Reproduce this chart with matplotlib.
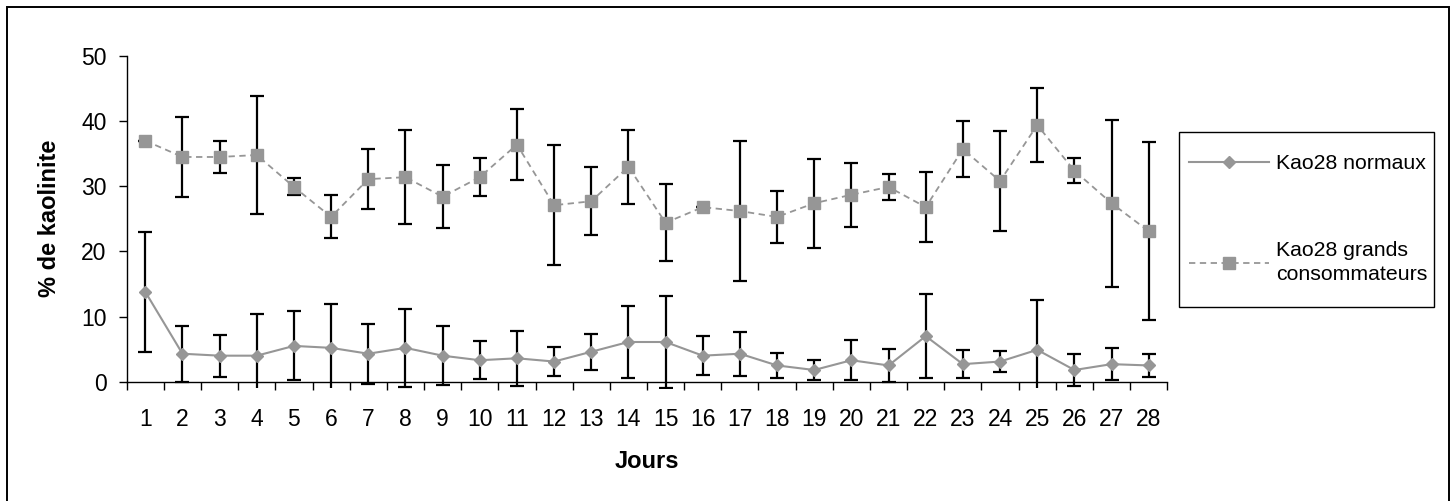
import matplotlib
matplotlib.use("Agg")
import matplotlib.pyplot as plt
from matplotlib.patches import Rectangle
from matplotlib.lines import Line2D
from matplotlib.ticker import FixedLocator, NullFormatter, FixedFormatter

plt.rcParams['font.family'] = ['Liberation Sans', 'DejaVu Sans']

# Days of observation
jours = list(range(1, 29))

# Kaolinite percentage, normal consumers (mean and standard deviation)
kao_normaux = [13.8, 4.3, 4.0, 4.0, 5.5, 5.2, 4.3, 5.2, 4.0, 3.3, 3.6, 3.1, 4.6, 6.1,
               6.1, 4.0, 4.3, 2.5, 1.8, 3.3, 2.5, 7.0, 2.7, 3.1, 4.9, 1.8, 2.7, 2.5]
err_normaux = [9.2, 4.3, 3.2, 6.4, 5.3, 6.8, 4.6, 6.0, 4.5, 2.9, 4.2, 2.2, 2.8, 5.5,
               7.0, 3.0, 3.4, 1.9, 1.5, 3.1, 2.5, 6.5, 2.2, 1.6, 7.6, 2.5, 2.5, 1.8]

# Kaolinite percentage, heavy consumers (mean and standard deviation)
kao_grands = [37.0, 34.5, 34.5, 34.8, 29.9, 25.3, 31.1, 31.4, 28.4, 31.4, 36.4, 27.1, 27.7, 33.0,
              24.4, 26.8, 26.2, 25.3, 27.4, 28.7, 29.9, 26.8, 35.7, 30.8, 39.4, 32.4, 27.4, 23.1]
err_grands = [0.0, 6.1, 2.5, 9.1, 1.3, 3.3, 4.6, 7.2, 4.8, 2.9, 5.4, 9.2, 5.2, 5.7,
              5.9, 0.0, 10.8, 4.0, 6.8, 4.9, 2.0, 5.4, 4.3, 7.7, 5.7, 1.9, 12.8, 13.7]

label_normaux = "Kao28 normaux"
label_grands = "Kao28 grands\nconsommateurs"
y_ticks = [0, 10, 20, 30, 40, 50]

W, H = 1456, 501
fig = plt.figure(figsize=(W / 100, H / 100), dpi=100)

# axes placed in pixel terms
left, right, top, bottom = 126.7, 1167.3, 56.0, 387.6
ax = fig.add_axes([left / W, 1 - bottom / H, (right - left) / W, (bottom - top) / H])

grey = '#969696'

# error bars first, markers above
ax.errorbar(jours, kao_grands, yerr=err_grands, fmt='none', ecolor='black',
            elinewidth=1.6, capsize=5.3, capthick=1.6, zorder=2)
ax.errorbar(jours, kao_normaux, yerr=err_normaux, fmt='none', ecolor='black',
            elinewidth=1.6, capsize=5.3, capthick=1.6, zorder=2)

ax.plot(jours, kao_normaux, color=grey, lw=1.5, marker='D', markersize=6.3,
        markerfacecolor=grey, markeredgecolor=grey, zorder=3)
ax.plot(jours, kao_grands, color=grey, lw=1.3, linestyle=(0, (3.5, 2.5)), marker='s',
        markersize=8.4, markerfacecolor=grey, markeredgecolor=grey, zorder=3)

ax.set_xlim(0.5, 28.5)
ax.set_ylim(-0.9, 50)

for s in ('top', 'right'):
    ax.spines[s].set_visible(False)
ax.spines['bottom'].set_position(('data', 0))
ax.spines['left'].set_bounds(0, 50)
for s in ('left', 'bottom'):
    ax.spines[s].set_color('black')
    ax.spines[s].set_linewidth(1.0)

# category boundaries carry the tick marks, labels sit at category centres
ax.xaxis.set_major_locator(FixedLocator([j - 0.5 for j in jours] + [28.5]))
ax.xaxis.set_major_formatter(NullFormatter())
ax.xaxis.set_minor_locator(FixedLocator(jours))
ax.xaxis.set_minor_formatter(FixedFormatter([str(j) for j in jours]))
ax.tick_params(axis='x', which='major', direction='out', length=5.5, width=1.0, color='black')
ax.tick_params(axis='x', which='minor', length=0, pad=19, labelsize=16.5)

ax.set_yticks(y_ticks)
ax.set_yticklabels([str(v) for v in y_ticks])
ax.tick_params(axis='y', direction='out', length=5.5, width=1.0, color='black',
               pad=9, labelsize=16.5)

ax.set_ylabel("% de kaolinite", fontsize=17, fontweight='bold')
ax.yaxis.label.set_va('center')
ax.yaxis.set_label_coords((50 - left) / (right - left), (bottom - 218.5) / (bottom - top))

fig.text(647 / W, 1 - 462 / H, "Jours", fontsize=17, fontweight='bold',
         ha='center', va='center')

# legend with a separately drawn frame
handles = [
    Line2D([], [], color=grey, lw=1.5, marker='D', markersize=6.3,
           markerfacecolor=grey, markeredgecolor=grey),
    Line2D([], [], color=grey, lw=1.3, linestyle=(0, (3.5, 2.5)), marker='s',
           markersize=8.4, markerfacecolor=grey, markeredgecolor=grey),
]
leg = fig.legend(handles, [label_normaux, label_grands], loc='upper left',
                 bbox_to_anchor=(1189 / W, 1 - 154 / H), frameon=False,
                 fontsize=15.3, handlelength=3.76, handletextpad=0.33,
                 labelspacing=3.2, borderpad=0.0, borderaxespad=0.0)
for t in leg.get_texts():
    t.set_linespacing(1.33)

fig.patches.append(Rectangle((1179 / W, 1 - 307 / H), (1434 - 1179) / W, (307 - 132) / H,
                             transform=fig.transFigure, fill=False, edgecolor='black',
                             lw=1.0))
# outer chart border
fig.patches.append(Rectangle((7 / W, -0.02), (1449 - 7) / W, 1.02 - 7 / H,
                             transform=fig.transFigure, fill=False, edgecolor='black',
                             lw=1.4))

fig.savefig("out.png", dpi=100)
